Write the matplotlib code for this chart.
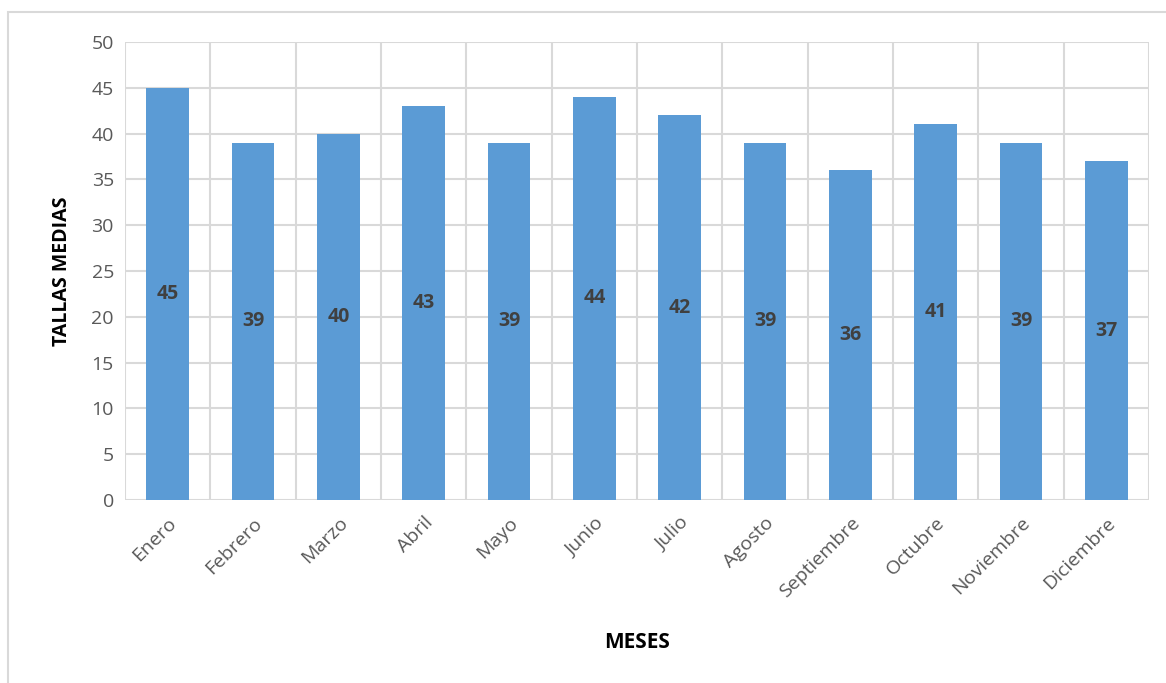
import matplotlib
matplotlib.use('Agg')
import matplotlib.pyplot as plt
from matplotlib.patches import Rectangle
import numpy as np

# monthly mean sizes
meses = ['Enero', 'Febrero', 'Marzo', 'Abril', 'Mayo', 'Junio', 'Julio',
         'Agosto', 'Septiembre', 'Octubre', 'Noviembre', 'Diciembre']
tallas = [45, 39, 40, 43, 39, 44, 42, 39, 36, 41, 39, 37]
yticks = [0, 5, 10, 15, 20, 25, 30, 35, 40, 45, 50]

BAR = '#5B9BD5'
GRID = '#D9D9D9'
TICK = '#595959'

plt.rcParams['font.family'] = ['Open Sans', 'DejaVu Sans']

fig = plt.figure(figsize=(11.66, 6.83), dpi=100)
ax = fig.add_axes([125 / 1166, 1 - 500 / 683, 1024 / 1166, 458 / 683])

# outer chart frame (only top and left edges fall inside the image)
fig.patches.append(Rectangle((8 / 1166, -0.05), 1.2, 1 - 12 / 683 + 0.05,
                             transform=fig.transFigure, fill=False,
                             edgecolor=GRID, linewidth=1.5, zorder=0))

x = np.arange(len(meses))
bars = ax.bar(x, tallas, width=0.5, color=BAR, zorder=3)

for xi, v in zip(x, tallas):
    ax.text(xi, v / 2, str(v), ha='center', va='center', fontsize=14,
            fontweight='bold', color='#404040', zorder=4)

ax.set_xlim(-0.5, len(meses) - 0.5)
ax.set_ylim(0, 50)
ax.set_yticks(yticks)
ax.set_yticklabels([str(t) for t in yticks], fontsize=14, color=TICK)
ax.set_xticks(x)
ax.set_xticklabels(meses, rotation=45, ha='right', rotation_mode='anchor',
                   fontsize=14, color=TICK)
ax.tick_params(length=0, pad=8)
ax.tick_params(axis='x', pad=10)

# horizontal grid at every tick, vertical grid at the category edges
for t in yticks:
    ax.axhline(t, color=GRID, linewidth=1.5, zorder=1)
for b in np.arange(-0.5, len(meses), 1.0):
    ax.axvline(b, color=GRID, linewidth=1.5, zorder=1)
for s in ax.spines.values():
    s.set_visible(False)

ax.set_ylabel('TALLAS MEDIAS', fontsize=14, fontweight='bold', color='black',
              labelpad=14)
ax.set_xlabel('MESES', fontsize=15, fontweight='bold', color='black',
              labelpad=22)

fig.savefig('out.png', dpi=100)
